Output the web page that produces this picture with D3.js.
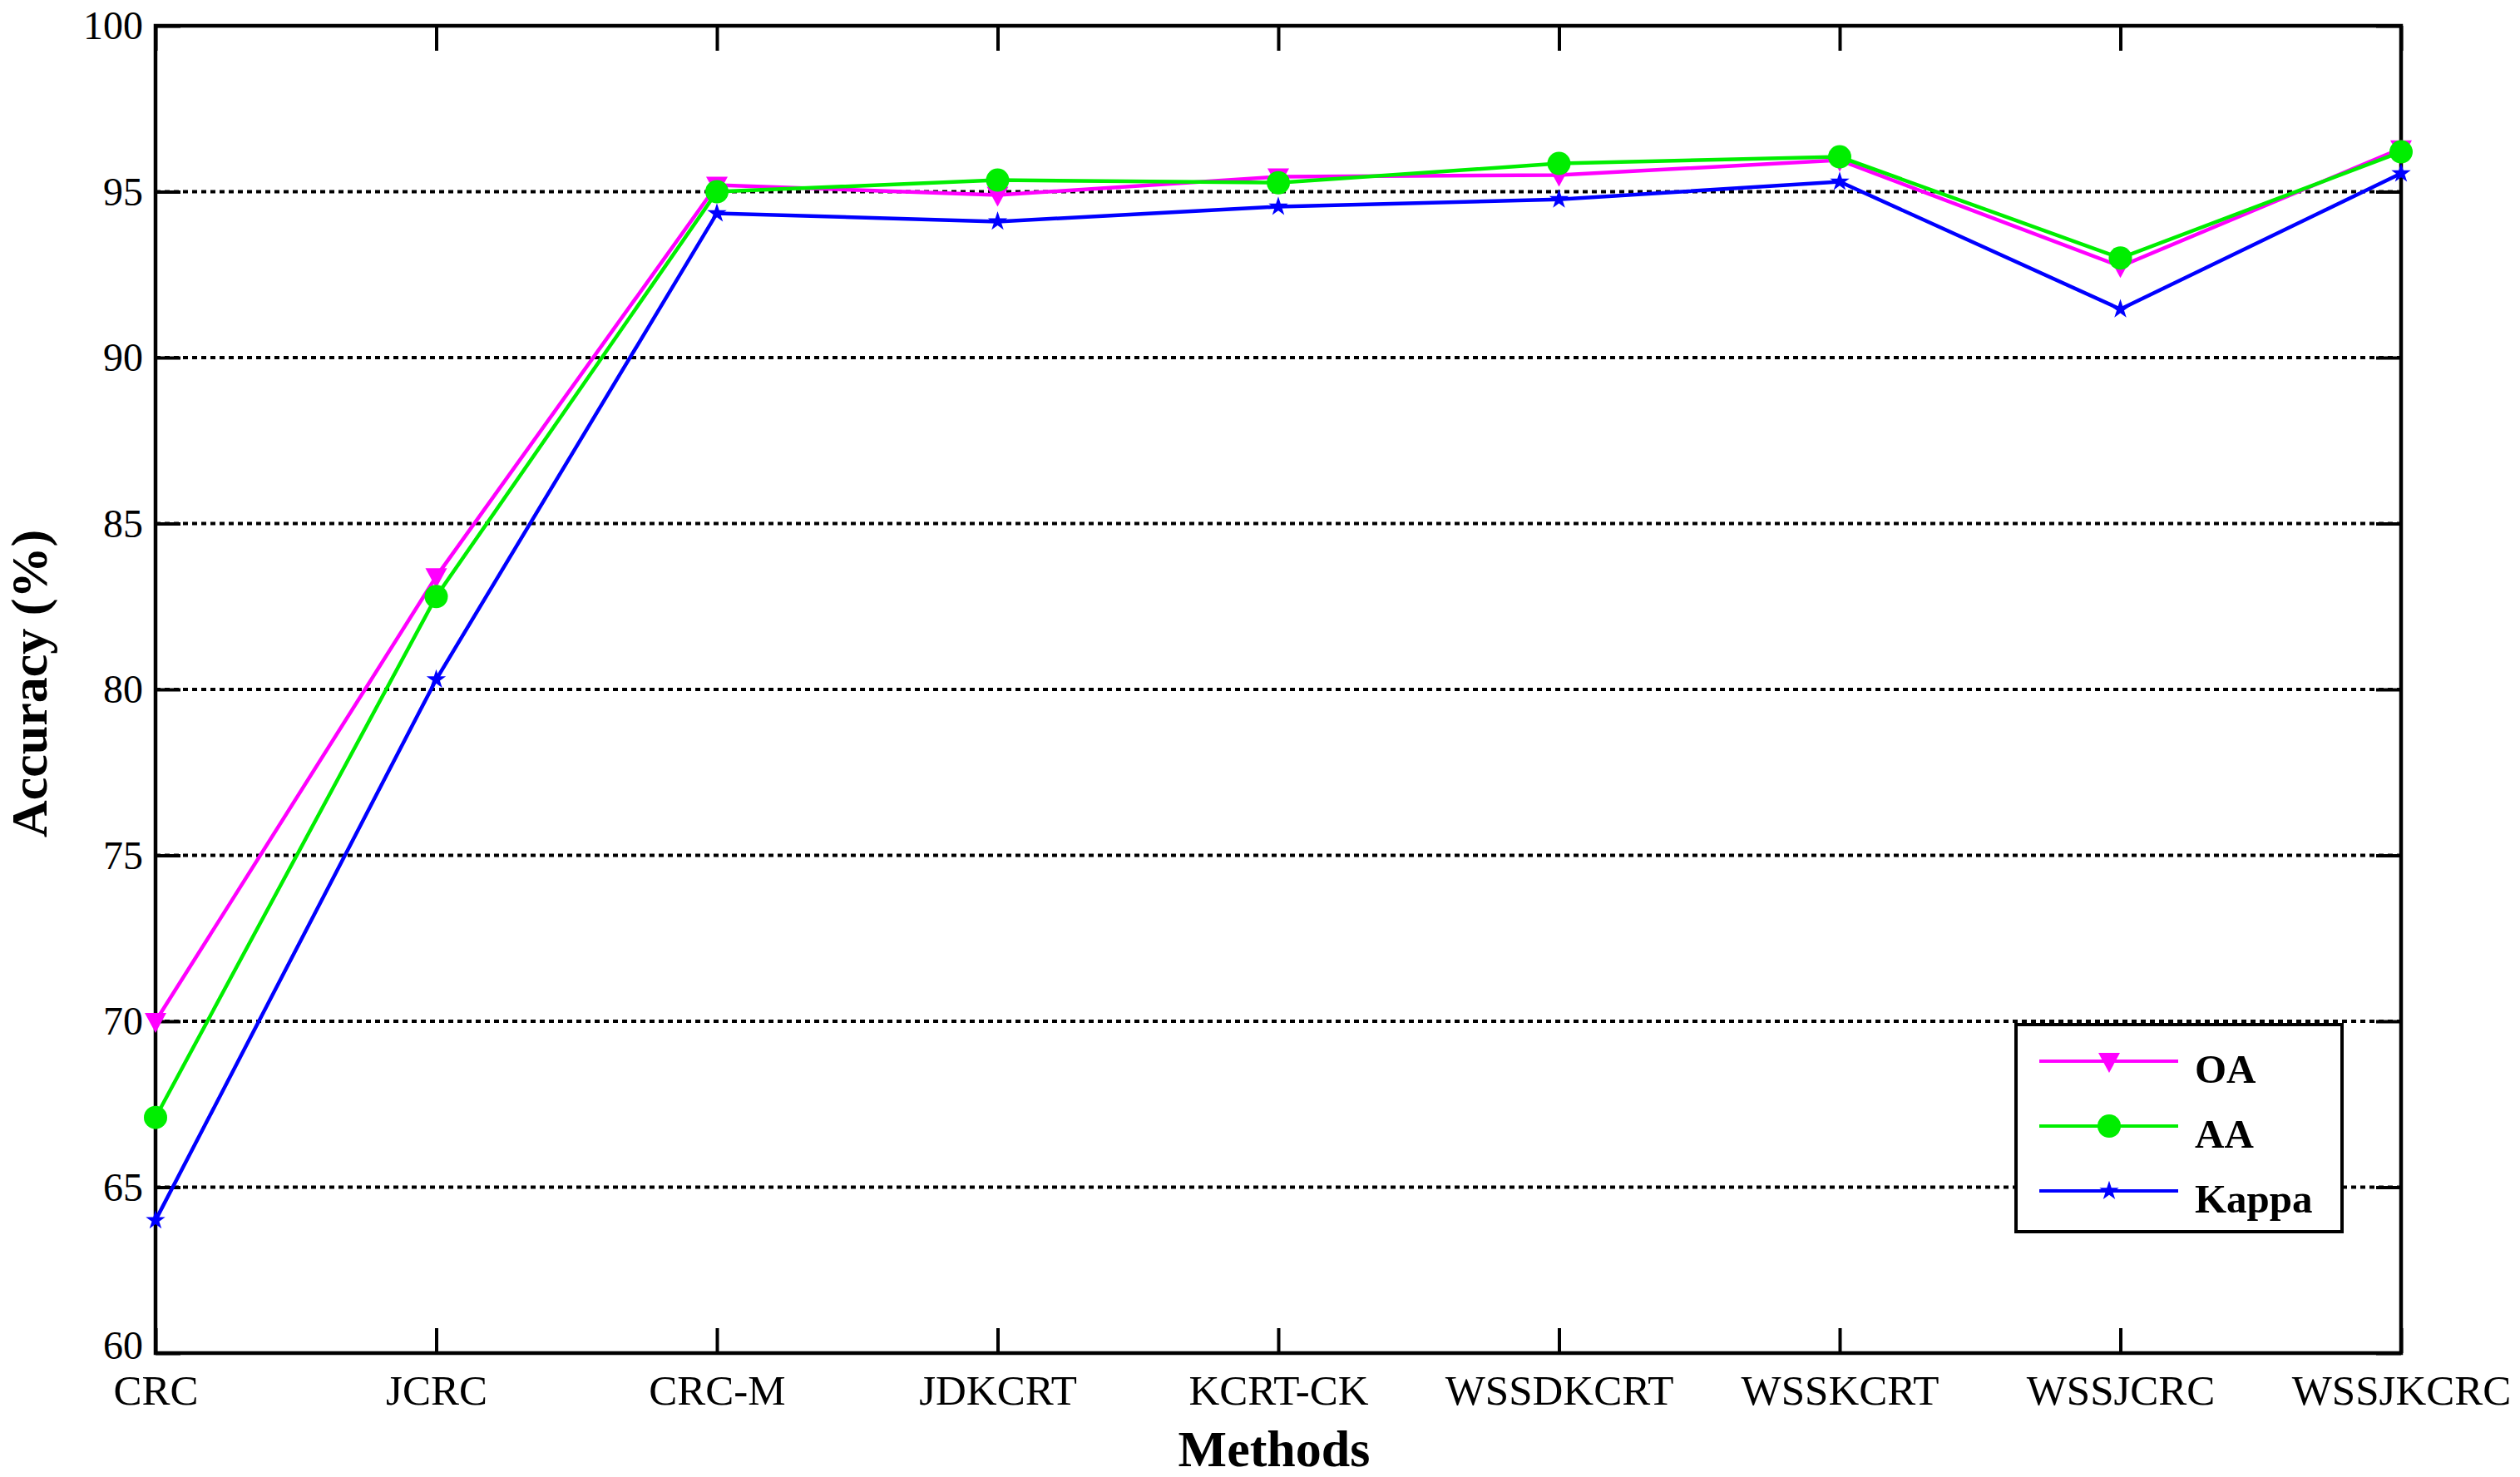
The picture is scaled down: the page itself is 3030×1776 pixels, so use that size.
<!DOCTYPE html>
<html>
<head>
<meta charset="utf-8">
<script src="https://cdn.jsdelivr.net/npm/d3@7"></script>
<style>
  body { margin: 0; background: #fff; }
  svg { display: block; }
</style>
</head>
<body>
<div id="chart"></div>
<script>
const methods = ["CRC", "JCRC", "CRC-M", "JDKCRT", "KCRT-CK", "WSSDKCRT", "WSSKCRT", "WSSJCRC", "WSSJKCRC"]
const oa = [70.0, 83.4, 95.2, 94.9, 95.45, 95.5, 95.95, 92.75, 96.3]
const aa = [67.1, 82.8, 95.0, 95.35, 95.27, 95.85, 96.05, 93.0, 96.2]
const kappa = [64.0, 80.3, 94.35, 94.1, 94.55, 94.77, 95.3, 91.46, 95.55]
const yTicks = [60, 65, 70, 75, 80, 85, 90, 95, 100]

const W = 3030, H = 1776
const margin = {left: 187, right: 143, top: 31, bottom: 149}
const font = "'Liberation Serif', 'Times New Roman', serif"

const svg = d3.select("#chart").append("svg")
    .attr("width", W).attr("height", H)

const x = d3.scalePoint().domain(methods).range([margin.left, W - margin.right])
const y = d3.scaleLinear().domain([60, 100]).range([H - margin.bottom, margin.top])

// dotted grid
svg.append("g").attr("class", "grid")
    .selectAll("line").data(yTicks).join("line")
    .attr("x1", margin.left).attr("x2", W - margin.right)
    .attr("y1", d => y(d)).attr("y2", d => y(d))
    .attr("stroke", "#000").attr("stroke-width", 4)
    .attr("stroke-dasharray", "6,5")

// axes (ticks inward, on all four sides)
let tickLen = 30
let axBottom = svg.append("g")
    .attr("transform", "translate(0," + (H - margin.bottom) + ")")
    .call(d3.axisBottom(x).tickSize(-tickLen))
let axTop = svg.append("g")
    .attr("transform", "translate(0," + margin.top + ")")
    .call(d3.axisTop(x).tickSize(-tickLen).tickFormat(""))
let axLeft = svg.append("g")
    .attr("transform", "translate(" + margin.left + ",0)")
    .call(d3.axisLeft(y).tickValues(yTicks).tickSize(-tickLen).tickPadding(15))
let axRight = svg.append("g")
    .attr("transform", "translate(" + (W - margin.right) + ",0)")
    .call(d3.axisRight(y).tickValues(yTicks).tickSize(-tickLen).tickFormat(""))

for (let g of [axBottom, axTop, axLeft, axRight]) {
    g.select(".domain").remove()
    g.selectAll(".tick line").attr("stroke", "#000").attr("stroke-width", 4)
    g.selectAll("text").attr("font-family", font).attr("fill", "#000")
}
axBottom.selectAll("text").attr("font-size", 51).attr("y", 62).attr("dy", 0)
axLeft.selectAll("text").attr("font-size", 48).attr("dy", "0.33em")
// lowest label sits right above the first category name
axLeft.selectAll(".tick").filter(d => d === 60).select("text").attr("dy", "0.14em")

// frame
svg.append("rect")
    .attr("x", margin.left).attr("y", margin.top)
    .attr("width", W - margin.left - margin.right)
    .attr("height", H - margin.top - margin.bottom)
    .attr("fill", "none").attr("stroke", "#000").attr("stroke-width", 4.5)

// axis titles
svg.append("text")
    .attr("x", 1532).attr("y", 1763)
    .attr("text-anchor", "middle")
    .attr("font-family", font).attr("font-size", 62).attr("font-weight", "bold")
    .text("Methods")
svg.append("text")
    .attr("transform", "translate(56,822) rotate(-90)")
    .attr("text-anchor", "middle")
    .attr("font-family", font).attr("font-size", 62).attr("font-weight", "bold")
    .text("Accuracy (%)")

const series = [
    {name: "OA", values: oa, color: "#ff00ff", symbol: "tri"},
    {name: "AA", values: aa, color: "#00ee00", symbol: "circle"},
    {name: "Kappa", values: kappa, color: "#0000ff", symbol: "star"}
]

function marker(g, type, color) {
    if (type === "circle") {
        g.append("circle").attr("r", 14).attr("fill", color)
    } else if (type === "tri") {
        g.append("path").attr("d", "M-13,-10 L13,-10 L0,14 Z").attr("fill", color)
    } else {
        g.append("path").attr("d", d3.symbol().type(d3.symbolStar).size(170)()).attr("fill", color)
    }
}

const line = d3.line().x((d, i) => x(methods[i])).y(d => y(d))

let plot = svg.append("g").attr("class", "series")
for (let s of series) {
    plot.append("path")
        .datum(s.values)
        .attr("d", line)
        .attr("fill", "none")
        .attr("stroke", s.color)
        .attr("stroke-width", 4.5)
}
for (let s of series) {
    s.values.forEach((v, i) => {
        let g = plot.append("g").attr("transform", "translate(" + x(methods[i]) + "," + y(v) + ")")
        marker(g, s.symbol, s.color)
    })
}

// legend
let lg = svg.append("g").attr("class", "legend").attr("transform", "translate(2424,1232)")
lg.append("rect").attr("width", 392).attr("height", 249)
    .attr("fill", "#fff").attr("stroke", "#000").attr("stroke-width", 4)
series.forEach((s, i) => {
    let ly = 44 + i * 78
    lg.append("line").attr("x1", 28).attr("x2", 195).attr("y1", ly).attr("y2", ly)
        .attr("stroke", s.color).attr("stroke-width", 4)
    let m = lg.append("g").attr("transform", "translate(112," + ly + ")")
    marker(m, s.symbol, s.color)
    lg.append("text").attr("x", 215).attr("y", ly + 26)
        .attr("font-family", font).attr("font-size", 49).attr("font-weight", "bold")
        .text(s.name)
})
</script>
</body>
</html>
